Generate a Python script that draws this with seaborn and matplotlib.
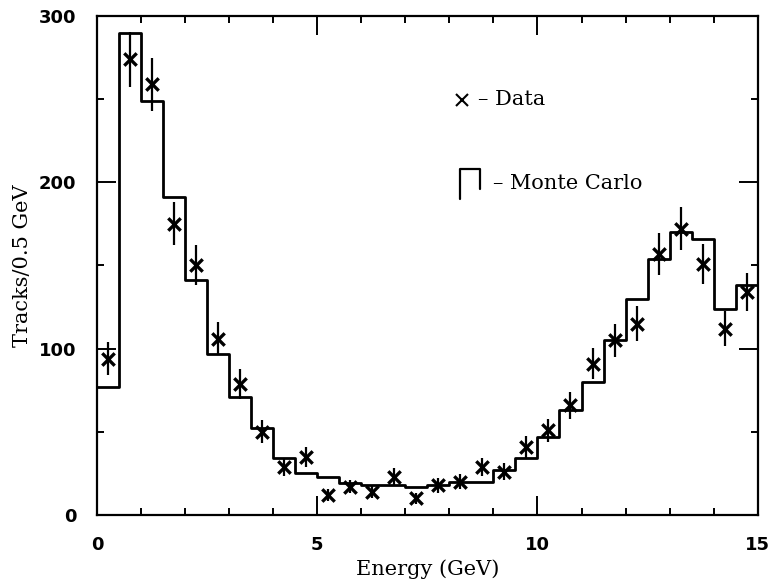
import numpy as np
import pandas as pd
import matplotlib
matplotlib.use("Agg")
import matplotlib.pyplot as plt
import seaborn as sns

# Bin edges (0.5 GeV bins from 0 to 15 GeV)
bin_edges = [round(0.5 * i, 1) for i in range(31)]
bin_centers = [e + 0.25 for e in bin_edges[:-1]]

# Monte Carlo prediction, tracks per 0.5 GeV bin
mc_counts = [77, 290, 249, 191, 141, 97, 71, 52, 34, 25,
             23, 19, 18, 18, 17, 18, 20, 20, 27, 34,
             47, 63, 80, 105, 130, 154, 170, 166, 124, 138]

# Measured tracks per bin and their statistical errors
data_counts = [94, 274, 259, 175, 150, 106, 79, 50, 29, 35,
               12, 17, 14, 23, 10, 18, 20, 29, 26, 41,
               51, 66, 91, 105, 115, 157, 172, 151, 112, 134]
data_errors = [10, 16.5, 16, 13, 12, 10, 9, 7, 5.5, 6,
               3.5, 4, 4, 5, 3.5, 4.5, 4.5, 5.5, 5, 6.5,
               7, 8, 9.5, 10, 10.5, 12.5, 13, 12, 10.5, 11.5]

x_ticks = [0, 5, 10, 15]
y_ticks = [0, 100, 200, 300]

sns.set_theme(style="ticks")
plt.rcParams["font.family"] = ["DejaVu Serif", "DejaVu Sans"]

df_mc = pd.DataFrame({"energy": bin_centers, "tracks": mc_counts})
df_data = pd.DataFrame({"energy": bin_centers, "tracks": data_counts,
                        "err": data_errors})

fig = plt.figure(figsize=(7.7, 5.81), dpi=100)
ax = fig.add_axes([0.126, 0.1136, 0.858, 0.859])

# Monte Carlo histogram as a step outline
sns.histplot(data=df_mc, x="energy", weights="tracks", bins=bin_edges,
             element="step", fill=False, color="black", linewidth=2.0, ax=ax)

# Data points with error bars
ax.errorbar(df_data["energy"], df_data["tracks"], yerr=df_data["err"],
            fmt="none", ecolor="black", elinewidth=1.6, capsize=0, zorder=3)
sns.scatterplot(data=df_data, x="energy", y="tracks", marker="x", s=80,
                color="black", linewidth=2.4, ax=ax, zorder=4)

ax.set_xlim(0, 15)
ax.set_ylim(0, 300)
ax.set_xticks(x_ticks)
ax.set_xticks(np.arange(0, 15.01, 1), minor=True)
ax.set_yticks(y_ticks)
ax.set_yticks([50, 150, 250], minor=True)
ax.set_xticklabels([str(v) for v in x_ticks])
ax.set_yticklabels([str(v) for v in y_ticks])

ax.tick_params(axis="both", which="major", direction="in", length=14,
               width=1.4, top=True, right=True, color="black")
ax.tick_params(axis="both", which="minor", direction="in", length=5,
               width=1.4, top=True, right=True, color="black")
ax.tick_params(axis="x", which="major", pad=15)
ax.tick_params(axis="y", which="major", pad=15)
for lab in ax.get_xticklabels() + ax.get_yticklabels():
    lab.set_family("DejaVu Sans")
    lab.set_fontweight("bold")
    lab.set_fontsize(13)
    lab.set_color("black")

for side in ["left", "right", "top", "bottom"]:
    ax.spines[side].set_visible(True)
    ax.spines[side].set_linewidth(1.6)
    ax.spines[side].set_color("black")

ax.set_xlabel("Energy (GeV)", fontsize=15, color="black", labelpad=4)
ax.set_ylabel("Tracks/0.5 GeV", fontsize=15, color="black", labelpad=5)

# Key drawn inside the plot area
ax.plot([8.28], [249.5], marker="x", color="black", markersize=8,
        markeredgewidth=1.5, linestyle="none")
ax.text(8.65, 249.5, "\u2013 Data", fontsize=15, va="center", ha="left",
        color="black")
ax.plot([8.24, 8.24, 8.69, 8.69], [190, 208, 208, 196], color="black",
        linewidth=1.6)
ax.text(9.0, 199.5, "\u2013 Monte Carlo", fontsize=15, va="center",
        ha="left", color="black")

fig.savefig("out.png", dpi=100)
